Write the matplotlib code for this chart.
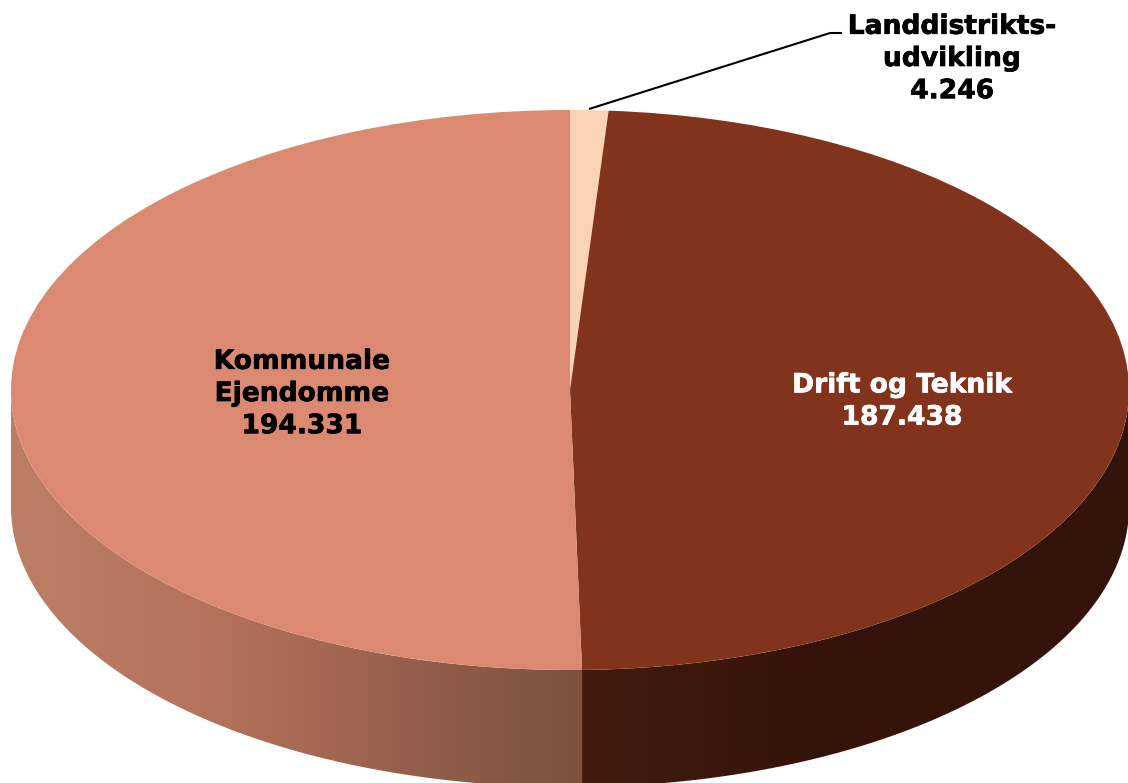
import numpy as np
import matplotlib
matplotlib.use("Agg")
import matplotlib.pyplot as plt
import matplotlib.patheffects as pe
from matplotlib.colors import to_rgb
from matplotlib.patches import Polygon

W, H = 1128, 783
CX, CY, RX, RY, DEPTH = 570, 390, 559, 280, 117

categories = ["Landdistrikts-\nudvikling", "Drift og Teknik", "Kommunale\nEjendomme"]
values = [4246, 187438, 194331]
value_labels = ["4.246", "187.438", "194.331"]
top_colors = ["#FAD2B4", "#81331C", "#DB8A71"]

fig = plt.figure(figsize=(W / 100, H / 100), dpi=100)
ax = fig.add_axes([0, 0, 1, 1])
ax.pie(values, colors=top_colors, startangle=90, counterclock=False, radius=1,
       wedgeprops={"linewidth": 0, "zorder": 5})


def px(x, y):
    return (x - CX) / RX, (CY - y) / RY


x0, x1 = px(0, 0)[0], px(W, 0)[0]
y0, y1 = px(0, H)[1], px(0, 0)[1]
depth = DEPTH / RY
ax.set_xlim(x0, x1)
ax.set_ylim(y0, y1)
ax.set_aspect("auto")
ax.axis("off")

cum = np.cumsum(values) / np.sum(values) * 2 * np.pi
split = cum[1]


def side(a_start, a_end, stops, z):
    a = np.linspace(a_start, a_end, 300)
    xs, ys = np.sin(a), np.cos(a)
    pts = np.r_[np.c_[xs, ys], np.c_[xs, ys - depth][::-1]]
    poly = Polygon(pts, closed=True, facecolor="none", edgecolor="none",
                   transform=ax.transData)
    ax.add_patch(poly)
    xpix = np.linspace(stops[0][0], stops[-1][0], 600)
    rgb = np.array([to_rgb(c) for _, c in stops])
    pos = [s for s, _ in stops]
    grad = np.stack([np.interp(xpix, pos, rgb[:, i]) for i in range(3)], axis=-1)[None, :, :]
    im = ax.imshow(grad, extent=(px(stops[0][0], 0)[0], px(stops[-1][0], 0)[0], y0, y1),
                   aspect="auto", interpolation="bilinear", zorder=z, origin="lower")
    im.set_clip_path(poly)


side(np.pi / 2, split, [(500, "#421B0E"), (582, "#421B0E"), (800, "#36140B"), (1140, "#33130B")], 2)
side(split, 3 * np.pi / 2,
     [(0, "#BC7F66"), (200, "#B5735C"), (300, "#A86A55"), (400, "#96604D"), (582, "#7D5040"), (600, "#7D5040")], 3)
ax.set_xlim(x0, x1)
ax.set_ylim(y0, y1)

FS = 19.1
txt = dict(ha="center", va="center", fontsize=FS, fontweight="bold",
           family="DejaVu Sans", linespacing=1.31, zorder=10)
for xy, label, col in [((302, 394), f"{categories[2]}\n{value_labels[2]}", "black"),
                       ((902, 401.5), f"{categories[1]}\n{value_labels[1]}", "white"),
                       ((952, 59), f"{categories[0]}\n{value_labels[0]}", "black")]:
    t = ax.text(*px(*xy), label, color=col, **txt)
    t.set_path_effects([pe.withStroke(linewidth=0.5, foreground=col)])

lx, ly = zip(px(589, 109), px(830, 33), px(842, 33))
ax.plot(lx, ly, color="black", lw=1.5, zorder=9, solid_capstyle="butt")

fig.savefig("out.png", dpi=100, facecolor="white")
